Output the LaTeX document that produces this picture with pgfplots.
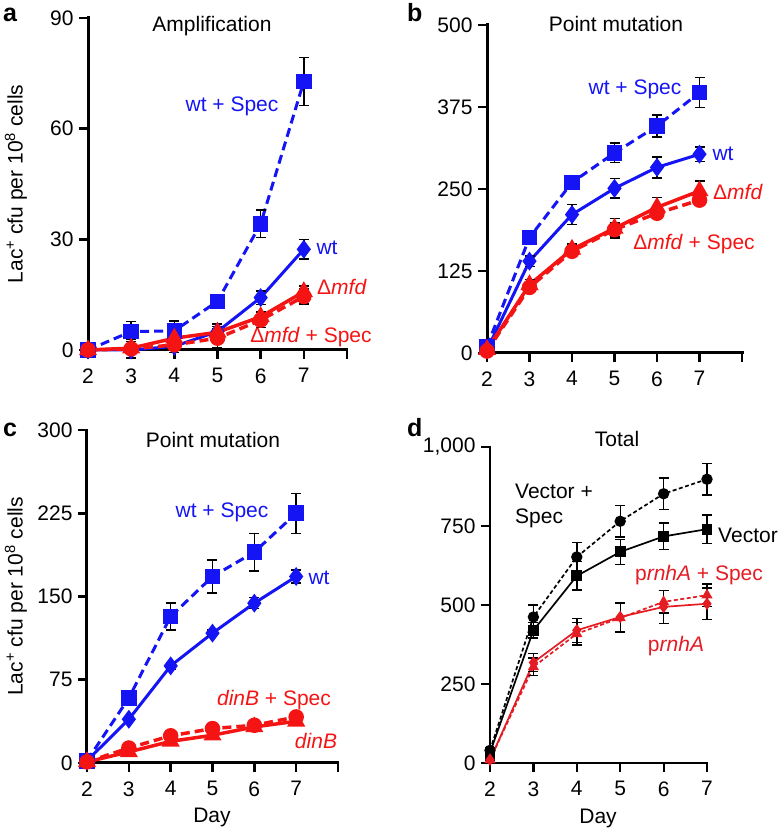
\documentclass[border=0pt]{standalone}
\usepackage{fontspec}
\setmainfont{Liberation Sans}
\usepackage{pgfplots}
\pgfplotsset{compat=1.18}
\definecolor{cblue}{RGB}{20,20,245}
\definecolor{cred}{RGB}{245,20,20}
\definecolor{dred}{RGB}{228,28,36}

\pgfplotsset{
  panel/.style={
    anchor=south west, scale only axis, clip=false,
    axis x line=bottom, axis y line=left,
    axis line style={-, black, line width=3pt, line cap=rect},
    tick align=outside, major tick length=9pt,
    tick style={black, line width=2.6pt},
    xmin=2, xmax=8, xtick={2,...,8}, xticklabels={2,3,4,5,6,7,{}},
    xticklabel style={yshift=-6pt},
    yticklabel style={xshift=-2pt},
    ymin=0,
  },
  errs/.style={error bars/.cd, y dir=both, y explicit,
    error bar style={black, solid, line width=1.4pt},
    error mark options={black, solid, rotate=90, mark size=5pt, line width=1.4pt}},
  dsh/.style={dash pattern=on 9pt off 5pt},
}

\begin{document}
\begin{tikzpicture}[font=\fontsize{21}{25}\selectfont]
\useasboundingbox (0pt,0pt) rectangle (781pt,830pt);

% ---- a: amplification
\begin{axis}[panel, at={(88pt,480pt)}, width=259pt, height=332pt,
  ymax=90, ytick={0,30,60,90}, yticklabels={0,30,60,90},
  ylabel={Lac\textsuperscript{+} cfu per 10\textsuperscript{8} cells},
  ylabel style={at={(axis description cs:-0.278,0.5)}, anchor=center}]
\addplot[cblue, line width=3pt, dsh, mark=square*, mark size=6.3pt, mark options={solid}, errs]
  coordinates {(2,0)+-(0,0.5) (3,5)+-(0,2.7) (4,5.2)+-(0,2.7) (5,13.2)+-(0,1) (6,34.2)+-(0,3.7) (7,72.8)+-(0,6.5)};
\addplot[cblue, line width=3pt, mark=diamond*, mark size=7pt, mark options={solid}, errs]
  coordinates {(2,0)+-(0,0.2) (3,0)+-(0,0.3) (4,1)+-(0,0.5) (5,5)+-(0,2) (6,14.2)+-(0,1.8) (7,27.3)+-(0,2.6)};
\addplot[cred, line width=3.5pt, dsh, mark=*, mark size=6pt, mark options={solid}, errs]
  coordinates {(2,0)+-(0,0.3) (3,0.3)+-(0,2.5) (4,1.4)+-(0,2) (5,3.2)+-(0,2.5) (6,8.1)+-(0,2) (7,14.5)+-(0,2)};
\addplot[cred, line width=3.5pt, mark=triangle*, mark size=7pt, mark options={solid}, errs]
  coordinates {(2,0)+-(0,0.3) (3,0.5)+-(0,1) (4,3.2)+-(0,1.5) (5,4.8)+-(0,1.5) (6,9)+-(0,1.5) (7,15.8)+-(0,1.5)};
\end{axis}

% ---- b: point mutation
\begin{axis}[panel, at={(487pt,477pt)}, width=255pt, height=328pt,
  ymax=500, ytick={0,125,250,375,500}, yticklabels={0,125,250,375,500}]
\addplot[cblue, line width=3pt, dsh, mark=square*, mark size=6.3pt, mark options={solid}, errs]
  coordinates {(2,10)+-(0,3) (3,176)+-(0,5) (4,260)+-(0,8) (5,305)+-(0,15) (6,346)+-(0,17) (7,397)+-(0,23)};
\addplot[cblue, line width=3pt, mark=diamond*, mark size=7pt, mark options={solid}, errs]
  coordinates {(2,5)+-(0,3) (3,140)+-(0,8) (4,211)+-(0,15) (5,251)+-(0,15) (6,283)+-(0,16) (7,303)+-(0,11)};
\addplot[cred, line width=3.5pt, dsh, mark=*, mark size=6pt, mark options={solid}, errs]
  coordinates {(2,3)+-(0,2) (3,100)+-(0,8) (4,155)+-(0,8) (5,188)+-(0,10) (6,213)+-(0,8) (7,233)+-(0,8)};
\addplot[cred, line width=3.5pt, mark=triangle*, mark size=7pt, mark options={solid}, errs]
  coordinates {(2,5)+-(0,2) (3,104)+-(0,8) (4,158)+-(0,8) (5,190)+-(0,15) (6,222)+-(0,15) (7,247)+-(0,15)};
\end{axis}

% ---- c: point mutation, dinB
\begin{axis}[panel, at={(87pt,67pt)}, width=251pt, height=333pt,
  ymax=300, ytick={0,75,150,225,300}, yticklabels={0,75,150,225,300},
  ylabel={Lac\textsuperscript{+} cfu per 10\textsuperscript{8} cells},
  ylabel style={at={(axis description cs:-0.283,0.5)}, anchor=center},
  xlabel={Day}, xlabel style={at={(axis description cs:0.498,-0.165)}, anchor=center}]
\addplot[cblue, line width=3pt, dsh, mark=square*, mark size=6.3pt, mark options={solid}, errs]
  coordinates {(2,2)+-(0,1) (3,58.6)+-(0,4) (4,132)+-(0,12) (5,168)+-(0,15) (6,190)+-(0,17) (7,225)+-(0,18)};
\addplot[cblue, line width=3pt, mark=diamond*, mark size=7pt, mark options={solid}, errs]
  coordinates {(2,2)+-(0,1) (3,39.4)+-(0,2) (4,87.5)+-(0,3) (5,117)+-(0,3) (6,144)+-(0,5) (7,168)+-(0,6)};
\addplot[cred, line width=3.5pt, dsh, mark=*, mark size=6pt, mark options={solid}, errs]
  coordinates {(2,1)+-(0,1) (3,13.5)+-(0,2) (4,24.5)+-(0,2) (5,31)+-(0,2) (6,34)+-(0,2) (7,41.5)+-(0,2)};
\addplot[cred, line width=3.5pt, mark=triangle*, mark size=7pt, mark options={solid}, errs]
  coordinates {(2,1)+-(0,1) (3,10)+-(0,2) (4,19.5)+-(0,2) (5,25)+-(0,2) (6,32.5)+-(0,2) (7,37.6)+-(0,2)};
\end{axis}

% ---- d: total
\begin{axis}[panel, at={(490pt,67pt)}, width=217pt, height=316pt,
  axis line style={line width=2.6pt}, tick style={line width=2.2pt},
  xmax=7, xtick={2,...,7}, xticklabels={2,3,4,5,6,7},
  ymax=1000, ytick={0,250,500,750,1000}, yticklabels={0,250,500,750,{1,000}},
  xlabel={Day}, xlabel style={at={(axis description cs:0.498,-0.174)}, anchor=center}]
\addplot[black, line width=1.7pt, dash pattern=on 4pt off 2.5pt, mark=*, mark size=4.8pt, mark options={solid}, errs]
  coordinates {(2,40)+-(0,5) (3,462)+-(0,38) (4,652)+-(0,45) (5,765)+-(0,50) (6,852)+-(0,50) (7,898)+-(0,50)};
\addplot[black, line width=1.7pt, mark=square*, mark size=4.6pt, mark options={solid}, errs]
  coordinates {(2,33)+-(0,5) (3,420)+-(0,25) (4,592)+-(0,45) (5,668)+-(0,40) (6,717)+-(0,42) (7,740)+-(0,45)};
\addplot[dred, line width=1.7pt, dash pattern=on 4pt off 2.5pt, mark=triangle*, mark size=4.8pt, mark options={solid}, errs]
  coordinates {(2,10)+-(0,3) (3,304)+-(0,28) (4,409)+-(0,35) (5,459)+-(0,45) (6,510)+-(0,35) (7,531)+-(0,35)};
\addplot[dred, line width=1.7pt, mark=diamond*, mark size=4.8pt, mark options={solid}, errs]
  coordinates {(2,10)+-(0,3) (3,318)+-(0,28) (4,420)+-(0,38) (5,462)+-(0,45) (6,494)+-(0,52) (7,504)+-(0,50)};
\end{axis}

% panel letters
\node[font=\fontsize{25}{28}\selectfont\bfseries, anchor=base west, inner sep=0pt] at (3pt,808pt) {a};
\node[font=\fontsize{25}{28}\selectfont\bfseries, anchor=base west, inner sep=0pt] at (407pt,808pt) {b};
\node[font=\fontsize{25}{28}\selectfont\bfseries, anchor=base west, inner sep=0pt] at (3pt,393pt) {c};
\node[font=\fontsize{25}{28}\selectfont\bfseries, anchor=base west, inner sep=0pt] at (407pt,393pt) {d};

% titles
\node[anchor=base, inner sep=0pt] at (212pt,798pt) {Amplification};
\node[anchor=base, inner sep=0pt] at (616pt,798pt) {Point mutation};
\node[anchor=base, inner sep=0pt] at (213pt,382pt) {Point mutation};
\node[anchor=base, inner sep=0pt] at (617pt,383pt) {Total};

% series labels
\node[cblue, inner sep=0pt] at (232pt,724pt) {wt + Spec};
\node[cblue, inner sep=0pt] at (327pt,582pt) {wt};
\node[cred, inner sep=0pt] at (342pt,543pt) {Δ\textit{mfd}};
\node[cred, inner sep=0pt] at (311pt,493pt) {Δ\textit{mfd} + Spec};

\node[cblue, inner sep=0pt] at (635pt,741pt) {wt + Spec};
\node[cblue, inner sep=0pt] at (723pt,676pt) {wt};
\node[cred, inner sep=0pt] at (738pt,638pt) {Δ\textit{mfd}};
\node[cred, inner sep=0pt] at (694pt,586pt) {Δ\textit{mfd} + Spec};

\node[cblue, inner sep=0pt] at (222pt,318pt) {wt + Spec};
\node[cblue, inner sep=0pt] at (319pt,252pt) {wt};
\node[cred, inner sep=0pt] at (274pt,130pt) {\textit{dinB} + Spec};
\node[cred, inner sep=0pt] at (316pt,89pt) {\textit{dinB}};

\node[black, inner sep=0pt, anchor=west, align=left] at (515pt,324pt) {Vector +\\Spec};
\node[black, inner sep=0pt] at (748pt,295pt) {Vector};
\node[dred, inner sep=0pt] at (699pt,255pt) {p\textit{rnhA} + Spec};
\node[dred, inner sep=0pt] at (676pt,184pt) {p\textit{rnhA}};
\end{tikzpicture}
\end{document}
